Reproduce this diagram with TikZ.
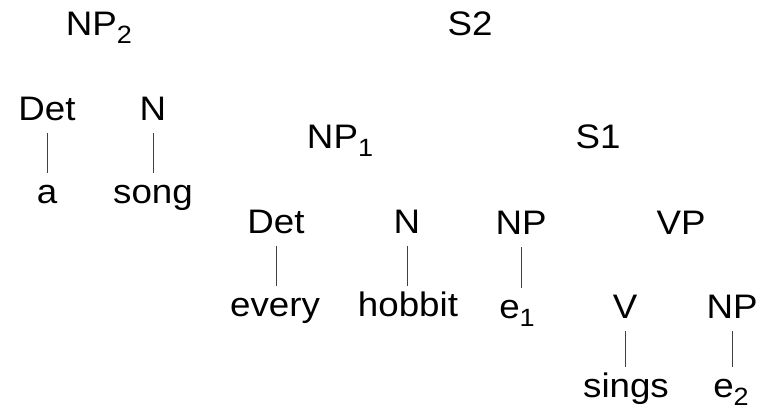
\documentclass[tikz,border=0pt]{standalone}
\usepackage{fontspec}
\setmainfont[FakeStretch=1.08]{Liberation Sans}
\newcommand{\subsc}[1]{{\fontsize{25}{25}\selectfont\raisebox{-8pt}{#1}}}
\begin{document}
\begin{tikzpicture}[x=1pt,y=-1pt,
  lab/.style={anchor=base,inner sep=0pt,text height=25pt,text depth=8pt,
    font=\fontsize{34}{40}\selectfont},
  edge/.style={draw=black!75,line width=0.8pt,shorten <=5pt,shorten >=5pt}]
\useasboundingbox (0,0) rectangle (767,409);
% top level
\node[lab] (np2) at (99,36) {NP\subsc{2}};
\node[lab] (s2) at (470,36) {S2};
% left NP
\node[lab] (det1) at (47,120) {Det};
\node[lab] (n1) at (153,120) {N};
\node[lab] (a) at (47,203) {a};
\node[lab] (song) at (153,203) {song};
% NP1 and S1
\node[lab] (np1) at (340,148) {NP\subsc{1}};
\node[lab] (s1) at (598,148) {S1};
% third row
\node[lab] (det2) at (276,233) {Det};
\node[lab] (n2) at (407,233) {N};
\node[lab] (np3) at (521,234) {NP};
\node[lab] (vp) at (681,234) {VP};
\node[lab] (every) at (275,316) {every};
\node[lab] (hobbit) at (408,316) {hobbit};
\node[lab] (e1) at (517,318) {e\subsc{1}};
\node[lab] (v) at (625,318) {V};
\node[lab] (np4) at (732,318) {NP};
\node[lab] (sings) at (626,397) {sings};
\node[lab] (e2) at (731,397) {e\subsc{2}};
% connectors
\draw[edge] (det1.south) -- (det1.south |- a.north);
\draw[edge] (n1.south) -- (n1.south |- song.north);
\draw[edge] (det2.south) -- (det2.south |- every.north);
\draw[edge] (n2.south) -- (n2.south |- hobbit.north);
\draw[edge] (np3.south) -- (np3.south |- e1.north);
\draw[edge] (v.south) -- (v.south |- sings.north);
\draw[edge] (np4.south) -- (np4.south |- e2.north);
\end{tikzpicture}
\end{document}
